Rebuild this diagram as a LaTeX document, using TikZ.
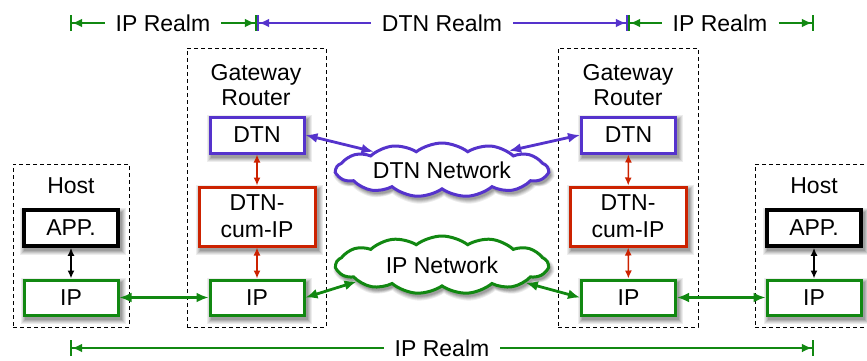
\documentclass[tikz,border=0pt]{standalone}
\usepackage{fontspec}
\setmainfont{Liberation Sans}
\usetikzlibrary{arrows.meta,shapes.symbols,backgrounds}
\definecolor{dtnc}{RGB}{85,51,204}
\definecolor{ipc}{RGB}{17,136,17}
\definecolor{cumc}{RGB}{204,34,0}
\begin{document}
\begin{tikzpicture}[x=1pt,y=-1pt, font=\fontsize{23}{26}\selectfont,
  stackbox/.style={draw, fill=white, minimum width=94pt, minimum height=36pt, inner sep=0pt},
  dtnbox/.style={stackbox, draw=dtnc, line width=3pt},
  ipbox/.style={stackbox, draw=ipc, line width=3pt, minimum height=35pt},
  appbox/.style={stackbox, draw=black, line width=3.6pt},
  cumbox/.style={stackbox, draw=cumc, line width=3pt, minimum width=116pt, minimum height=59pt, align=center, font=\fontsize{23}{27}\selectfont},
  dashbox/.style={draw, dashed, dash pattern=on 4pt off 3pt, line width=1pt, inner sep=0pt},
  cloudgeom/.style={cloud, cloud puffs=13, cloud puff arc=75, cloud ignores aspect, inner sep=0pt},
  cloudbox/.style={cloudgeom, draw, line width=3pt, fill=white, minimum width=212pt, minimum height=54pt},
  lbl/.style={inner sep=0pt, align=center},
  realmtxt/.style={inner xsep=11pt, inner ysep=0pt},
  netarrow/.style={line width=2.8pt, {Latex[length=12pt,width=10pt]}-{Latex[length=12pt,width=10pt]}},
  redarrow/.style={cumc, line width=1.5pt, {Latex[length=8pt,width=7pt]}-{Latex[length=8pt,width=7pt]}},
  blkarrow/.style={black, line width=1.8pt, {Latex[length=8pt,width=7pt]}-{Latex[length=8pt,width=7pt]}},
  realmarrow/.style={line width=2.2pt, -{Latex[length=10pt,width=9pt]Bar[width=16pt,line width=2.2pt]}}
]
\useasboundingbox (0,0) rectangle (867,360);

% dashed containers
\node[dashbox, minimum width=116pt, minimum height=163pt] (hostL) at (71,245.5) {};
\node[dashbox, minimum width=139pt, minimum height=279pt] (gwL) at (256.5,187.5) {};
\node[dashbox, minimum width=140pt, minimum height=279pt] (gwR) at (628,187.5) {};
\node[dashbox, minimum width=120pt, minimum height=163pt] (hostR) at (815,245.5) {};

% labels
\node[lbl] (hostLt) at (71,186) {Host};
\node[lbl] (hostRt) at (814,186) {Host};
\node[lbl, font=\fontsize{23}{25}\selectfont] (gwLt) at (256,85) {Gateway\\Router};
\node[lbl, font=\fontsize{23}{25}\selectfont] (gwRt) at (628,85) {Gateway\\Router};

% cloud shadows (soft, graded grey)
\foreach \e/\g in {8/7,6/14,4/22,2/30,0/38} {
  \node[cloudgeom, fill=black!\g, minimum width=212pt+\e pt, minimum height=54pt+\e pt] (dtnCloudS\e) at (444,173.5) {};
  \node[cloudgeom, fill=black!\g, minimum width=212pt+\e pt, minimum height=58pt+\e pt] (ipCloudS\e) at (444,268.5) {};
}

% left host
\node[appbox] (appL) at (71,228) {APP.};
\node[ipbox] (ipL) at (71,297.5) {IP};

% left gateway
\node[dtnbox] (dtnL) at (257,135) {DTN};
\node[cumbox] (cumL) at (257,216.5) {DTN-\\cum-IP};
\node[ipbox] (ipGL) at (257,297.5) {IP};

% right gateway
\node[dtnbox] (dtnR) at (628.5,135) {DTN};
\node[cumbox] (cumR) at (628,216.5) {DTN-\\cum-IP};
\node[ipbox] (ipGR) at (628.5,297.5) {IP};

% right host
\node[appbox] (appR) at (814,228) {APP.};
\node[ipbox] (ipR) at (814,297.5) {IP};

% box shadows (soft, graded grey)
\begin{scope}[on background layer]
\foreach \n in {appL,ipL,dtnL,cumL,ipGL,dtnR,cumR,ipGR,appR,ipR}
  \foreach \e/\g in {4/7,3/14,2/22,1/30,0/38}
    \fill[black!\g] ([shift={(2pt-\e pt,-3.5pt-\e pt)}]\n.south west) rectangle ([shift={(2pt+\e pt,-3.5pt+\e pt)}]\n.north east);
\end{scope}

% clouds
\node[cloudbox, draw=dtnc] (dtnCloud) at (442,170) {DTN Network};
\node[cloudbox, draw=ipc, minimum height=58pt] (ipCloud) at (442,265) {IP Network};

% vertical arrows
\draw[blkarrow] (appL) -- (ipL);
\draw[blkarrow] (appR) -- (ipR);
\draw[redarrow] (dtnL) -- (cumL);
\draw[redarrow] (cumL) -- (ipGL);
\draw[redarrow] (dtnR) -- (cumR);
\draw[redarrow] (cumR) -- (ipGR);

% horizontal / network arrows
\draw[netarrow, ipc] (ipL) -- (ipGL);
\draw[netarrow, ipc] (ipGR) -- (ipR);
\draw[netarrow, dtnc] (dtnL.east) -- (dtnCloud.165);
\draw[netarrow, dtnc] (dtnCloud.16) -- (dtnR.west);
\draw[netarrow, ipc] (ipGL.east) -- (ipCloud.191);
\draw[netarrow, ipc] (ipCloud.348) -- (ipGR.west);

% realm annotations
\coordinate (b1) at (70,23);
\coordinate (b2) at (257,23);
\coordinate (b3) at (628,23);
\coordinate (b4) at (814,23);
\coordinate (b5) at (70,348);
\coordinate (b6) at (814,348);
\node[realmtxt] (rIPL) at (163,23) {IP Realm};
\node[realmtxt] (rDTN) at (442,23) {DTN Realm};
\node[realmtxt] (rIPR) at (720,23) {IP Realm};
\node[realmtxt] (rIPB) at (442,348) {IP Realm};

\draw[realmarrow, ipc] (rIPL.west) -- (b1);
\draw[realmarrow, ipc] (rIPL.east) -- (b2);
\draw[realmarrow, dtnc] (rDTN.west) -- (b2);
\draw[realmarrow, dtnc] (rDTN.east) -- (b3);
\draw[realmarrow, ipc] (rIPR.west) -- (b3);
\draw[realmarrow, ipc] (rIPR.east) -- (b4);
\draw[realmarrow, ipc] (rIPB.west) -- (b5);
\draw[realmarrow, ipc] (rIPB.east) -- (b6);
\end{tikzpicture}
\end{document}
